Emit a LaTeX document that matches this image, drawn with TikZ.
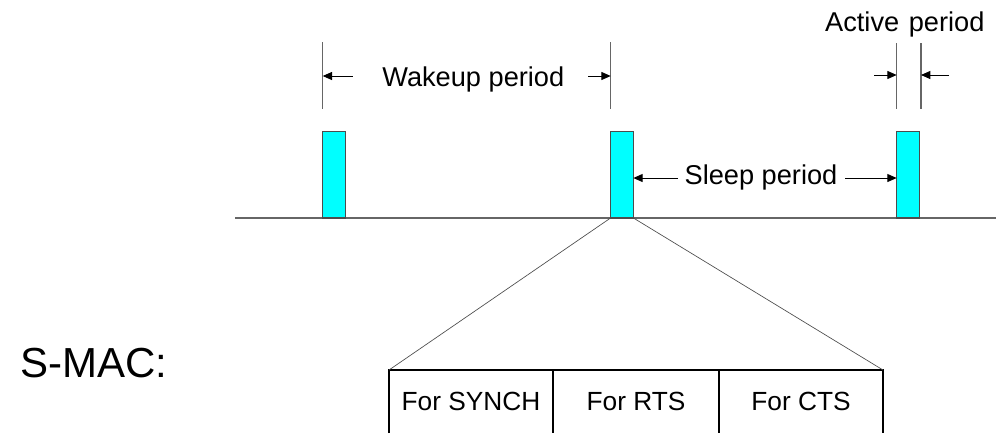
\documentclass[tikz,border=0pt]{standalone}
\usepackage{fontspec}
\setmainfont{Liberation Sans}
\usetikzlibrary{arrows.meta}
\definecolor{slotfill}{RGB}{0,255,255}
\begin{document}
\begin{tikzpicture}[x=0.75pt,y=-0.75pt,
  slot/.style={draw=black!70,fill=slotfill,line width=0.9pt,minimum width=17pt,minimum height=64.7pt,inner sep=0pt,outer sep=0pt},
  guide/.style={draw=black!60,line width=1pt},
  baseline/.style={draw=black!60,line width=1.1pt},
  dimarrow/.style={-{Triangle[length=7pt,width=6pt]},line width=0.7pt,draw=black},
  fan/.style={draw=black!70,line width=0.5pt},
  tline/.style={draw=black,line width=0.9pt},
  cell/.style={minimum width=123pt,minimum height=47.25pt,inner sep=0pt,outer sep=0pt,font=\fontsize{19.7}{23}\selectfont},
  lbl/.style={font=\fontsize{20.4}{24}\selectfont,anchor=base,inner sep=0pt}
]
\useasboundingbox (0,0) rectangle (996,433);

% time line
\coordinate (tl0) at (235,218);
\coordinate (tl1) at (996,218);
\draw[baseline] (tl0) -- (tl1);

% active slots
\node[slot] (b1) at (333.8,174.8) {};
\node[slot] (b2) at (622,174.8) {};
\node[slot] (b3) at (908,174.8) {};

% wakeup period
\coordinate (w1t) at (322.7,42);
\coordinate (w1b) at (322.7,109);
\coordinate (w2t) at (610.7,42);
\coordinate (w2b) at (610.7,109);
\draw[guide] (w1t) -- (w1b);
\draw[guide] (w2t) -- (w2b);
\node[lbl] (wk) at (473.3,86.7) {Wakeup period};
\coordinate (wa1) at (352.7,76);
\coordinate (wa2) at (588,76);
\draw[dimarrow] (wa1) -- (w1t |- wa1);
\draw[dimarrow] (wa2) -- (w2t |- wa2);

% active period
\coordinate (a1t) at (896.7,43);
\coordinate (a1b) at (896.7,109);
\coordinate (a2t) at (921,43);
\coordinate (a2b) at (921,109);
\draw[guide] (a1t) -- (a1b);
\draw[guide] (a2t) -- (a2b);
\node[lbl] (ac) at (904.8,31.5) {Active\hspace{1.5pt} period};
\coordinate (aa1) at (874,75);
\coordinate (aa2) at (949,75);
\draw[dimarrow] (aa1) -- (a1t |- aa1);
\draw[dimarrow] (aa2) -- (a2t |- aa2);

% sleep period
\node[lbl] (sl) at (761,184) {Sleep period};
\coordinate (sa1) at (678,178);
\coordinate (sa2) at (845,178);
\draw[dimarrow] (sa1) -- (b2.east |- sa1);
\draw[dimarrow] (sa2) -- (b3.west |- sa2);

% expanded slot
\node[cell] (c1) at (471,401.5) {For SYNCH};
\node[cell,minimum width=124.5pt] (c2) at (636,401.5) {For RTS};
\node[cell] (c3) at (801,401.5) {For CTS};
\draw[tline] (c1.south west) -- (c1.north west) -- (c3.north east) -- (c3.south east);
\draw[tline] (c1.north east) -- (c1.south east);
\draw[tline] (c2.north east) -- (c2.south east);
\draw[fan] (b2.south west) -- (c1.north west);
\draw[fan] (b2.south east) -- (c3.north east);

% protocol name
\node[font=\fontsize{31.5}{36}\selectfont,anchor=base west,inner sep=0pt] (smac) at (20,377) {S-MAC:};
\end{tikzpicture}
\end{document}
